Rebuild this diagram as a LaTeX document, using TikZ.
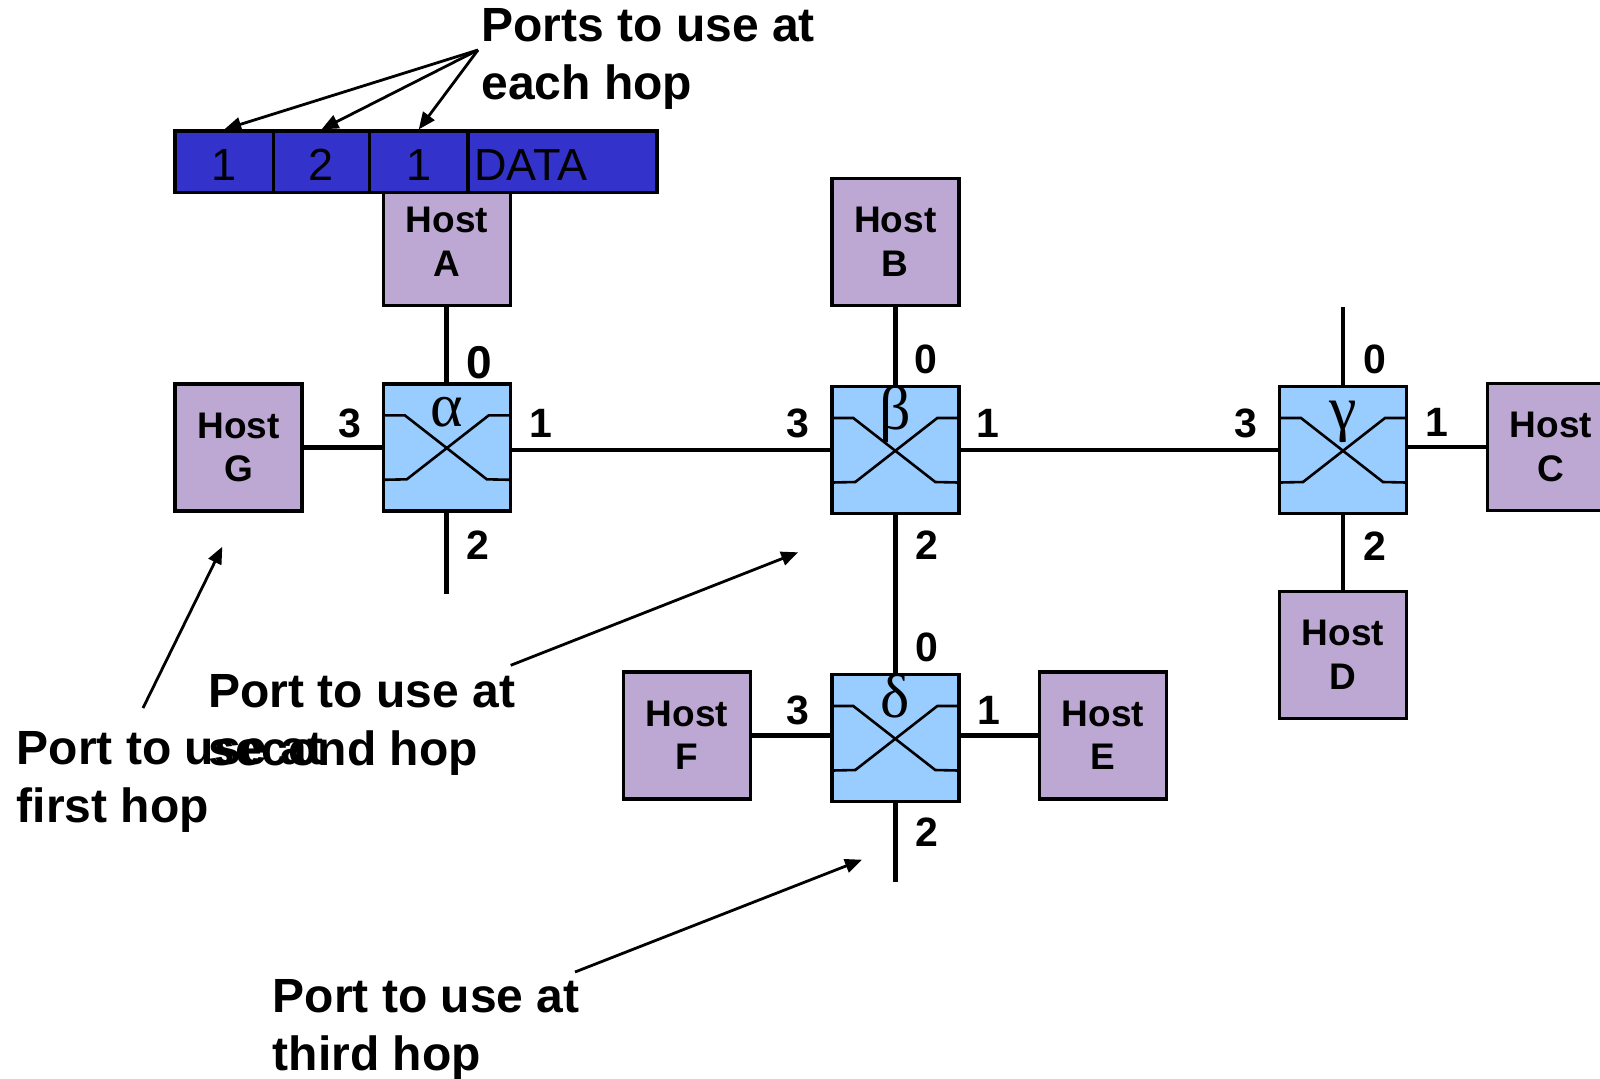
\documentclass[tikz,border=0pt]{standalone}
\usepackage{fontspec}
\setmainfont{Liberation Sans}
\newfontfamily\grkfont{Liberation Serif}
\usetikzlibrary{arrows.meta,calc}
\definecolor{hostfill}{RGB}{188,168,210}
\definecolor{swfill}{RGB}{153,204,255}
\definecolor{hdrfill}{RGB}{51,51,204}
\begin{document}
\begin{tikzpicture}[x=0.5pt,y=-0.5pt,
  host/.style={draw=black, line width=1.8pt, fill=hostfill, minimum width=63.5pt, minimum height=63.5pt, inner sep=0pt, align=center, font=\fontsize{18.5}{21.75}\selectfont\bfseries},
  switchbox/.style={draw=black, line width=1.8pt, fill=swfill, minimum width=63.5pt, minimum height=63.5pt, inner sep=0pt},
  conn/.style={line width=2.4pt},
  port/.style={inner sep=0pt, font=\fontsize{20.5}{22}\selectfont\bfseries},
  bigport/.style={inner sep=0pt, font=\fontsize{23}{24}\selectfont\bfseries},
  note/.style={inner sep=0pt, align=left, anchor=base west, font=\fontsize{24}{29}\selectfont\bfseries},
  hdr/.style={draw=black, line width=1.6pt, fill=hdrfill, minimum height=30.75pt, inner sep=0pt, text height=18.4pt, text depth=0pt, font=\fontsize{22.5}{24}\selectfont},
  ptr/.style={line width=1.4pt, -{Triangle[length=8.5pt,width=7pt]}},
  xline/.style={line width=1.3pt},
  greek/.style={inner sep=0pt, anchor=base, font=\fontsize{31}{32}\selectfont\grkfont}
]
\useasboundingbox (0,0) rectangle (1600,1078);
\clip (0,0) rectangle (1600,1078);

% hosts
\node[host] (A) at (446.8,242) {Host\\A};
\node[host] (B) at (895.3,242) {Host\\B};
\node[host] (G) at (238.7,447.3) {Host\\G};
\node[host] (C) at (1551,447) {Host\\C};
\node[host] (D) at (1343,655) {Host\\D};
\node[host] (F) at (687,735.5) {Host\\F};
\node[host] (E) at (1103,735.5) {Host\\E};

% switches
\node[switchbox] (al) at (446.8,447.3) {};
\node[switchbox] (be) at (895.3,450) {};
\node[switchbox] (ga) at (1343,450) {};
\node[switchbox] (de) at (895.3,738) {};
\foreach \s in {al,be,ga,de}{
  \draw[xline] ($(\s.center)+(-63.5,-32)$) -- ($(\s.center)+(-42,-32)$) -- ($(\s.center)+(40,32)$) -- ($(\s.center)+(63.5,32.5)$);
  \draw[xline] ($(\s.center)+(63.5,-32)$) -- ($(\s.center)+(42,-32)$) -- ($(\s.center)+(-40,32)$) -- ($(\s.center)+(-63.5,32.5)$);
}
\node[greek] (gal) at ($(al.center)+(0,-20.5)$) {α};
\node[greek] (gbe) at ($(be.center)+(0,-20.5)$) {β};
\node[greek] (gga) at ($(ga.center)+(0,-20.5)$) {γ};
\node[greek] (gde) at ($(de.center)+(0,-20.5)$) {δ};

% stub ends
\coordinate (alstub) at (446.8,594);
\coordinate (gastub) at (1343,306.7);
\coordinate (destub) at (895.3,881.7);

% connectors
\draw[conn] (A.south) -- (al.north);
\draw[conn] (al.south) -- (alstub);
\draw[conn] (G.east) -- (G.east -| al.west);
\draw[conn] (be.west) -- (be.west -| al.east);
\draw[conn] (B.south) -- (be.north);
\draw[conn] (be.east) -- (ga.west);
\draw[conn] (ga.north) -- (gastub);
\draw[conn] (C.west) -- (C.west -| ga.east);
\draw[conn] (ga.south) -- (D.north);
\draw[conn] (be.south) -- (de.north);
\draw[conn] (F.east) -- (F.east -| de.west);
\draw[conn] (E.west) -- (E.west -| de.east);
\draw[conn] (de.south) -- (destub);

% port labels
\node[bigport] (pa0) at (478.8,363) {0};
\node[port] (pa3) at (349.5,423.7) {3};
\node[port] (pa1) at (541,423.7) {1};
\node[port] (pa2) at (477.5,545.5) {2};
\node[port] (pb0) at (926,359) {0};
\node[port] (pb3) at (798,423.5) {3};
\node[port] (pb1) at (988,423.5) {1};
\node[port] (pb2) at (926.5,544.7) {2};
\node[port] (pg0) at (1374.8,359) {0};
\node[port] (pg3) at (1246,423) {3};
\node[port] (pg1) at (1437,422.5) {1};
\node[port] (pg2) at (1374.5,545.8) {2};
\node[port] (pd0) at (926.5,647.5) {0};
\node[port] (pd3) at (798,710.3) {3};
\node[port] (pd1) at (989.3,710) {1};
\node[port] (pd2) at (926.5,832.5) {2};

% header
\node[hdr, minimum width=49.25pt] (c1) at (224.25,161.75) {1};
\node[hdr, minimum width=48pt] (c2) at (321.5,161.75) {2};
\node[hdr, minimum width=49.25pt] (c3) at (418.75,161.75) {1};
\node[hdr, minimum width=94.5pt, inner xsep=3pt, text width=88.5pt, align=left] (c4) at (562.5,161.75) {DATA};

% notes (anchor = baseline of last line)
\node[note] (nports) at (481,99) {Ports to use at\\each hop};
\node[note] (nfirst) at (16.5,822) {Port to use at\\first hop};
\node[note] (nsecond) at (208,765) {Port to use at\\second hop};
\node[note] (nthird) at (272.5,1070) {Port to use at\\third hop};

% arrows
\coordinate (pt) at (478,50);
\draw[ptr] (pt) -- (c1.north);
\draw[ptr] (pt) -- (c2.north);
\draw[ptr] (pt) -- (c3.north);
\coordinate (h1t) at (143,708);
\coordinate (h1h) at (222.3,546.7);
\coordinate (h2t) at (510.7,665.3);
\coordinate (h2h) at (798.2,552.3);
\coordinate (h3t) at (575,972);
\coordinate (h3h) at (862,859.7);
\draw[ptr] (h1t) -- (h1h);
\draw[ptr] (h2t) -- (h2h);
\draw[ptr] (h3t) -- (h3h);
\end{tikzpicture}
\end{document}
